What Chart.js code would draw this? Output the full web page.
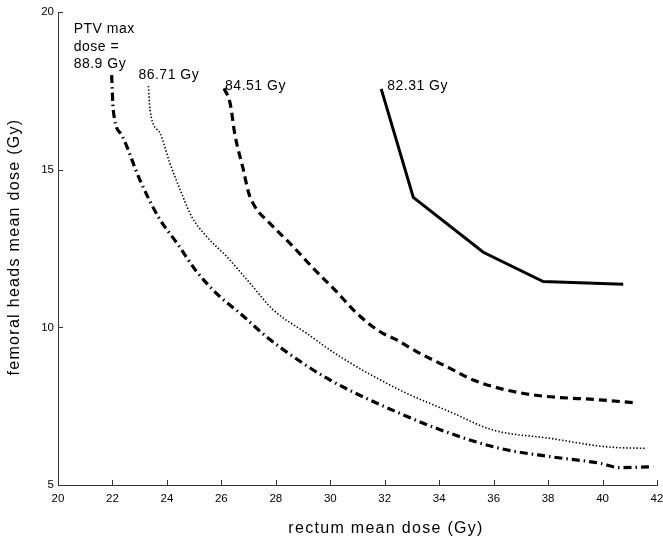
<!DOCTYPE html>
<html>
<head>
<meta charset="utf-8">
<script src="https://cdn.jsdelivr.net/npm/chart.js@4"></script>
<style>
  html, body { margin: 0; padding: 0; background: #fff; }
  #wrap { width: 663px; height: 542px; }
</style>
</head>
<body>
<div id="wrap"><canvas id="chart" width="663" height="542"></canvas></div>
<script>
// rectum mean dose (x) / femoral heads mean dose (y)
const rect8231 = [31.87, 33.05, 35.62, 37.82, 40.76];
const fem8231 = [17.56, 14.12, 12.38, 11.45, 11.37];

const rect8451 = [26.1, 26.32, 26.5, 26.81, 26.99, 27.23, 27.72, 28.58, 29.38, 30.23, 30.97, 31.83, 32.44, 33.17, 34.4, 35.25, 36.48, 37.7, 39.9, 41.13];
const fem8451 = [17.58, 17.11, 16.1, 14.99, 14.3, 13.83, 13.35, 12.61, 11.87, 11.13, 10.45, 9.86, 9.6, 9.23, 8.7, 8.33, 8.01, 7.83, 7.7, 7.61];

const rect8671 = [23.32, 23.38, 23.75, 24.11, 24.54, 24.91, 25.46, 26.2, 27.05, 27.91, 29.13, 30.36, 32.56, 34.4, 35.99, 38.07, 40.15, 41.62];
const fem8671 = [17.65, 16.89, 16.15, 15.2, 14.25, 13.51, 12.88, 12.24, 11.4, 10.55, 9.81, 9.07, 8.01, 7.32, 6.74, 6.48, 6.21, 6.16];

const rect889 = [21.97, 22.03, 22.34, 23.01, 23.68, 24.42, 25.09, 25.95, 26.68, 27.66, 28.64, 29.99, 32.56, 34.4, 36.23, 38.07, 39.9, 40.64, 41.86];
const fem889 = [18.0, 16.89, 16.1, 14.67, 13.51, 12.61, 11.77, 10.97, 10.45, 9.7, 9.07, 8.33, 7.27, 6.64, 6.16, 5.9, 5.69, 5.55, 5.58];

const xTicks = [20, 22, 24, 26, 28, 30, 32, 34, 36, 38, 40, 42];
const yTicks = [5, 10, 15, 20];

const xTitle = "rectum mean dose (Gy)";
const yTitle = "femoral heads mean dose (Gy)";

const curveLabels = [
  ["82.31 Gy"],
  ["84.51 Gy"],
  ["86.71 Gy"],
  ["PTV max", "dose =", "88.9 Gy"]
];

function toPoints(xs, ys) {
  return ys.map(function (v, i) {
    return { x: xs[i], y: v };
  });
}

const FONT = "'Liberation Sans', Arial, Helvetica, sans-serif";

//draw tick marks pointing into the plot, matlab style
const inwardTicks = {
  id: "inwardTicks",
  afterDraw(chart) {
    const ctx = chart.ctx;
    const area = chart.chartArea;
    const xs = chart.scales.x, ys = chart.scales.y;
    ctx.save();
    ctx.strokeStyle = "#333";
    ctx.lineWidth = 1;
    ctx.beginPath();
    xTicks.forEach(function (t) {
      const px = Math.round(xs.getPixelForValue(t)) + 0.5;
      ctx.moveTo(px, area.bottom);
      ctx.lineTo(px, area.bottom - 5);
    });
    yTicks.forEach(function (t) {
      const py = Math.round(ys.getPixelForValue(t)) + 0.5;
      ctx.moveTo(area.left, py);
      ctx.lineTo(area.left + 5, py);
    });
    ctx.stroke();
    ctx.restore();
  }
};

//axis titles, the original font is a bit wider than ours so space it out
const axisTitles = {
  id: "axisTitles",
  afterDraw(chart) {
    const ctx = chart.ctx;
    ctx.save();
    ctx.fillStyle = "#000";
    ctx.font = "16px " + FONT;
    ctx.letterSpacing = "1.3px";
    ctx.textAlign = "center";
    ctx.textBaseline = "middle";
    ctx.fillText(xTitle, 386, 529);
    ctx.translate(15, 247);
    ctx.rotate(-Math.PI / 2);
    ctx.fillText(yTitle, 0, 0);
    ctx.restore();
  }
};

//text next to the start of every curve
const curveText = {
  id: "curveText",
  afterDatasetsDraw(chart) {
    const ctx = chart.ctx;
    ctx.save();
    ctx.fillStyle = "#000";
    ctx.font = "14px " + FONT;
    ctx.letterSpacing = "0.5px";
    ctx.textBaseline = "alphabetic";
    const offsets = [[6, 1], [1, 2], [-10, -7], [-38, -7]];
    chart.data.datasets.forEach(function (ds, i) {
      const p = chart.getDatasetMeta(i).data[0];
      const lines = curveLabels[i];
      const n = lines.length;
      lines.forEach(function (txt, j) {
        ctx.fillText(txt, p.x + offsets[i][0], p.y + offsets[i][1] - (n - 1 - j) * 17.5);
      });
    });
    ctx.restore();
  }
};

let ctx = document.getElementById("chart").getContext("2d");
let chart = new Chart(ctx, {
  type: "scatter",
  data: {
    datasets: [
      {
        label: "82.31 Gy",
        data: toPoints(rect8231, fem8231),
        showLine: true,
        borderColor: "#000",
        borderWidth: 3,
        pointRadius: 0
      },
      {
        label: "84.51 Gy",
        data: toPoints(rect8451, fem8451),
        showLine: true,
        borderColor: "#000",
        borderWidth: 3.2,
        borderDash: [8, 5],
        cubicInterpolationMode: "monotone",
        pointRadius: 0
      },
      {
        label: "86.71 Gy",
        data: toPoints(rect8671, fem8671),
        showLine: true,
        borderColor: "#000",
        borderWidth: 1.6,
        borderDash: [1.4, 2],
        cubicInterpolationMode: "monotone",
        pointRadius: 0
      },
      {
        label: "88.9 Gy",
        data: toPoints(rect889, fem889),
        showLine: true,
        borderColor: "#000",
        borderWidth: 3.2,
        borderDash: [8, 4, 1.5, 4],
        cubicInterpolationMode: "monotone",
        pointRadius: 0
      }
    ]
  },
  options: {
    responsive: false,
    animation: false,
    layout: { padding: { top: 12, right: 0, left: 0, bottom: 0 } },
    plugins: {
      legend: { display: false },
      tooltip: { enabled: false }
    },
    scales: {
      x: {
        type: "linear",
        min: 20,
        max: 42,
        afterBuildTicks: function (scale) {
          scale.ticks = xTicks.map(function (v) { return { value: v }; });
        },
        afterFit: function (scale) {
          scale.height = 57;
          scale.paddingRight = 6;
        },
        grid: { display: false, drawTicks: false },
        border: { display: true, color: "#333", width: 1 },
        ticks: { color: "#000", padding: 7, font: { family: FONT, size: 11.5 }, maxRotation: 0 }
      },
      y: {
        type: "linear",
        min: 5,
        max: 20,
        afterBuildTicks: function (scale) {
          scale.ticks = yTicks.map(function (v) { return { value: v }; });
        },
        afterFit: function (scale) { scale.width = 58; },
        grid: { display: false, drawTicks: false },
        border: { display: true, color: "#333", width: 1 },
        ticks: { color: "#000", padding: 4, font: { family: FONT, size: 11.5 } }
      }
    }
  },
  plugins: [inwardTicks, curveText, axisTitles]
});
</script>
</body>
</html>
